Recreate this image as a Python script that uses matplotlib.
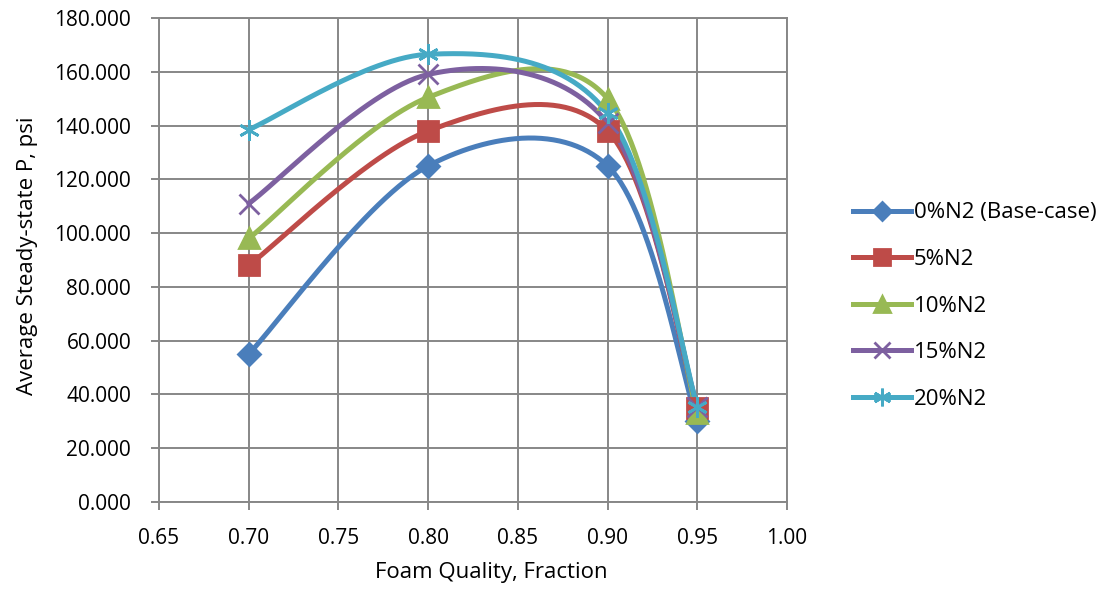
import numpy as np
import matplotlib.pyplot as plt

# foam quality (x) and average steady-state pressure for each N2 fraction
quality = [0.70, 0.80, 0.90, 0.95]
p_0 = [55.0, 125.0, 125.0, 30.0]
p_5 = [88.0, 138.0, 138.0, 35.0]
p_10 = [98.0, 150.5, 150.0, 33.0]
p_15 = [111.0, 159.0, 141.0, 35.5]
p_20 = [138.5, 166.5, 144.5, 35.5]

labels = ['0%N2 (Base-case)', '5%N2', '10%N2', '15%N2', '20%N2']
colors = ['#4A7EBB', '#BE4B48', '#98B954', '#7D60A0', '#46AAC5']
markers = ['D', 's', '^', 'x', (6, 2, 0)]
msizes = [11, 14, 14, 14, 15]


def smooth(x, y, n=60):
    # Catmull-Rom style bezier through the points (spreadsheet "smoothed line")
    x = np.asarray(x, float)
    y = np.asarray(y, float)
    px = np.concatenate([[x[0]], x, [x[-1]]])
    py = np.concatenate([[y[0]], y, [y[-1]]])
    xs, ys = [], []
    t = np.linspace(0, 1, n)
    for i in range(1, len(px) - 2):
        p0 = np.array([px[i], py[i]])
        p3 = np.array([px[i + 1], py[i + 1]])
        c1 = p0 + (np.array([px[i + 1], py[i + 1]]) - np.array([px[i - 1], py[i - 1]])) / 6
        c2 = p3 - (np.array([px[i + 2], py[i + 2]]) - np.array([px[i], py[i]])) / 6
        b = ((1 - t) ** 3)[:, None] * p0 + (3 * (1 - t) ** 2 * t)[:, None] * c1 \
            + (3 * (1 - t) * t ** 2)[:, None] * c2 + (t ** 3)[:, None] * p3
        xs.append(b[:, 0])
        ys.append(b[:, 1])
    return np.concatenate(xs), np.concatenate(ys)


plt.rcParams['font.family'] = ['Open Sans', 'DejaVu Sans']

fig = plt.figure(figsize=(11.06, 5.94), dpi=100)
ax = fig.add_axes([159 / 1106, 1 - 502 / 594, 628 / 1106, 484 / 594])

for vals, lab, c, m, ms in zip([p_0, p_5, p_10, p_15, p_20], labels, colors, markers, msizes):
    sx, sy = smooth(quality, vals)
    ax.plot(sx, sy, color=c, lw=3.6, solid_capstyle='round', zorder=3)
    ax.plot(quality, vals, ls='none', marker=m, ms=ms, color=c, mec=c, mew=2, zorder=4)
    ax.plot([], [], color=c, lw=3.6, marker=m, ms=ms * 0.85, mec=c, mew=2, label=lab)

ax.set_xlim(0.65, 1.00)
ax.set_ylim(0, 180)
ax.set_xticks(np.arange(0.65, 1.001, 0.05))
ax.set_xticklabels(['%.2f' % v for v in np.arange(0.65, 1.001, 0.05)])
ax.set_yticks(np.arange(0, 181, 20))
ax.set_yticklabels(['%.3f' % v for v in np.arange(0, 181, 20)])
ax.grid(True, color='#878787', lw=1.4)
ax.set_axisbelow(True)
for s in ax.spines.values():
    s.set_color('#878787')
    s.set_linewidth(1.4)
ax.tick_params(colors='#878787', labelcolor='black', labelsize=15, length=6, width=1.4)
ax.tick_params(axis='y', pad=14)
ax.tick_params(axis='x', pad=13)

ax.set_xlabel('Foam Quality, Fraction', fontsize=16)
ax.xaxis.set_label_coords((491 - 159) / 628, -(562 - 502) / 484)
ax.set_ylabel('Average Steady-state P, psi', fontsize=16)
ax.yaxis.set_label_coords(-(159 - 38) / 628, (502 - 256) / 484)

leg = ax.legend(loc='center left', bbox_to_anchor=(833 / 1106, 1 - 306 / 594),
                bbox_transform=fig.transFigure, frameon=False, fontsize=16,
                handlelength=2.6, labelspacing=1.15, handletextpad=0.15)

fig.savefig('out.png', dpi=100)
